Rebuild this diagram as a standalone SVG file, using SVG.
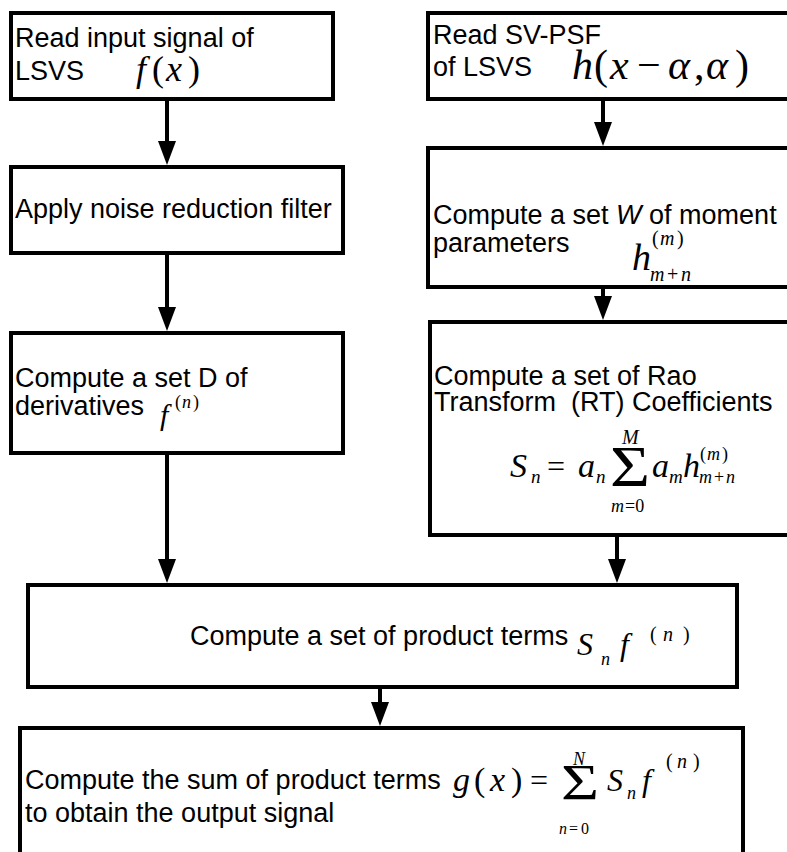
<svg xmlns="http://www.w3.org/2000/svg" width="787" height="852" viewBox="0 0 787 852">
<style>
.box{fill:#fff;stroke:#000;stroke-width:4}
.t{font-family:"Liberation Sans",Arial,sans-serif;font-size:27px;fill:#000}
.m{font-family:"Liberation Serif","Times New Roman",serif;font-style:italic;fill:#000}
.r{font-family:"Liberation Serif","Times New Roman",serif;font-style:normal;fill:#000}
.c{fill:none;stroke:#000;stroke-width:4}
</style>
<defs>
<marker id="ah" viewBox="0 0 24 18" refX="18" refY="9" markerWidth="24" markerHeight="18" markerUnits="userSpaceOnUse" orient="auto">
<path d="M0,0 L24,9 L0,18 Z" fill="#000"/>
</marker>
</defs>
<rect width="787" height="852" fill="#fff"/>
<g id="connectors">
<line class="c" x1="167" y1="99" x2="167" y2="159" marker-end="url(#ah)"/>
<line class="c" x1="167" y1="253" x2="167" y2="325" marker-end="url(#ah)"/>
<line class="c" x1="167" y1="453" x2="167" y2="577" marker-end="url(#ah)"/>
<line class="c" x1="603" y1="99" x2="603" y2="140" marker-end="url(#ah)"/>
<line class="c" x1="603" y1="287" x2="603" y2="314" marker-end="url(#ah)"/>
<line class="c" x1="617" y1="535" x2="617" y2="577" marker-end="url(#ah)"/>
<line class="c" x1="380" y1="687" x2="380" y2="720" marker-end="url(#ah)"/>
</g>
<g id="read-input">
<rect class="box" x="11" y="13" width="322" height="86"/>
<text class="t" x="15" y="47">Read input signal of</text>
<text class="t" x="15" y="80">LSVS</text>
<text class="m" font-size="36" x="136" y="81">f</text>
<text class="r" font-size="36" x="152" y="81">(</text>
<text class="m" font-size="36" x="166" y="81">x</text>
<text class="r" font-size="36" x="188" y="81">)</text>
</g>
<g id="noise-filter">
<rect class="box" x="11" y="167" width="332" height="86"/>
<text class="t" x="15" y="218">Apply noise reduction filter</text>
</g>
<g id="derivatives">
<rect class="box" x="11" y="333" width="332" height="120"/>
<text class="t" x="15" y="387">Compute a set D of</text>
<text class="t" x="15" y="415">derivatives</text>
<text class="m" font-size="30" x="160" y="425">f</text>
<text class="r" font-size="18" x="175" y="408">(</text>
<text class="m" font-size="18" x="182" y="408">n</text>
<text class="r" font-size="18" x="193" y="408">)</text>
</g>
<g id="read-psf">
<rect class="box" x="428" y="13" width="380" height="86"/>
<text class="t" x="433" y="44">Read SV-PSF</text>
<text class="t" x="433" y="76">of LSVS</text>
<text class="m" font-size="42" x="572" y="79">h</text>
<text class="r" font-size="42" x="594" y="79">(</text>
<text class="m" font-size="42" x="610" y="79">x</text>
<text class="r" font-size="42" x="637" y="79">−</text>
<text class="m" font-size="42" x="668" y="79">α</text>
<text class="r" font-size="42" x="694" y="79">,</text>
<text class="m" font-size="42" x="706" y="79">α</text>
<text class="r" font-size="42" x="735" y="79">)</text>
</g>
<g id="moments">
<rect class="box" x="428" y="148" width="380" height="139"/>
<text class="t" x="433" y="224">Compute a set <tspan font-style="italic">W</tspan> of moment</text>
<text class="t" x="433" y="252">parameters</text>
<text class="m" font-size="38" x="632" y="270">h</text>
<text class="r" font-size="20" x="652" y="245">(</text>
<text class="m" font-size="20" x="660" y="245">m</text>
<text class="r" font-size="20" x="677" y="245">)</text>
<text class="m" font-size="20" x="650" y="281">m</text>
<text class="r" font-size="20" x="667" y="281">+</text>
<text class="m" font-size="20" x="681" y="281">n</text>
</g>
<g id="rt-coefficients">
<rect class="box" x="430" y="322" width="380" height="213"/>
<text class="t" x="434" y="385">Compute a set of Rao</text>
<text class="t" x="434" y="411" xml:space="preserve">Transform  (RT) Coefficients</text>
<text class="m" font-size="34" x="510" y="477">S</text>
<text class="m" font-size="19" x="531" y="483">n</text>
<text class="r" font-size="32" x="547" y="477">=</text>
<text class="m" font-size="34" x="578" y="477">a</text>
<text class="m" font-size="19" x="596" y="483">n</text>
<text class="r" font-size="56" x="610" y="486" textLength="40" lengthAdjust="spacingAndGlyphs">Σ</text>
<text class="m" font-size="20" x="622" y="444">M</text>
<text class="m" font-size="18" x="611" y="512">m</text>
<text class="r" font-size="18" x="625" y="512">=0</text>
<text class="m" font-size="34" x="652" y="477">a</text>
<text class="m" font-size="19" x="669" y="483">m</text>
<text class="m" font-size="34" x="683" y="477">h</text>
<text class="r" font-size="18" x="700" y="460">(</text>
<text class="m" font-size="18" x="707" y="460">m</text>
<text class="r" font-size="18" x="722" y="460">)</text>
<text class="m" font-size="18" x="699" y="483">m</text>
<text class="r" font-size="18" x="714" y="483">+</text>
<text class="m" font-size="18" x="726" y="483">n</text>
</g>
<g id="product-terms">
<rect class="box" x="28" y="585" width="709" height="102"/>
<text class="t" x="190" y="645">Compute a set of product terms</text>
<text class="m" font-size="32" x="577" y="655">S</text>
<text class="m" font-size="18" x="601" y="665">n</text>
<text class="m" font-size="32" x="620" y="655">f</text>
<text class="r" font-size="20" x="650" y="641">(</text>
<text class="m" font-size="20" x="663" y="641">n</text>
<text class="r" font-size="20" x="683" y="641">)</text>
</g>
<g id="sum-output">
<rect class="box" x="20" y="728" width="723" height="150"/>
<text class="t" x="25" y="789">Compute the sum of product terms</text>
<text class="t" x="25" y="822">to obtain the output signal</text>
<text class="m" font-size="34" x="453" y="791">g</text>
<text class="r" font-size="34" x="474" y="791">(</text>
<text class="m" font-size="34" x="490" y="791">x</text>
<text class="r" font-size="34" x="511" y="791">)</text>
<text class="r" font-size="32" x="530" y="791">=</text>
<text class="r" font-size="50" x="561" y="799" textLength="38" lengthAdjust="spacingAndGlyphs">Σ</text>
<text class="m" font-size="18" x="573" y="765">N</text>
<text class="m" font-size="16" x="559" y="834">n</text>
<text class="r" font-size="16" x="569" y="834">=</text>
<text class="r" font-size="16" x="581" y="834">0</text>
<text class="m" font-size="32" x="607" y="791">S</text>
<text class="m" font-size="18" x="627" y="799">n</text>
<text class="m" font-size="32" x="642" y="791">f</text>
<text class="r" font-size="20" x="666" y="768">(</text>
<text class="m" font-size="20" x="677" y="768">n</text>
<text class="r" font-size="20" x="693" y="768">)</text>
</g>
</svg>
